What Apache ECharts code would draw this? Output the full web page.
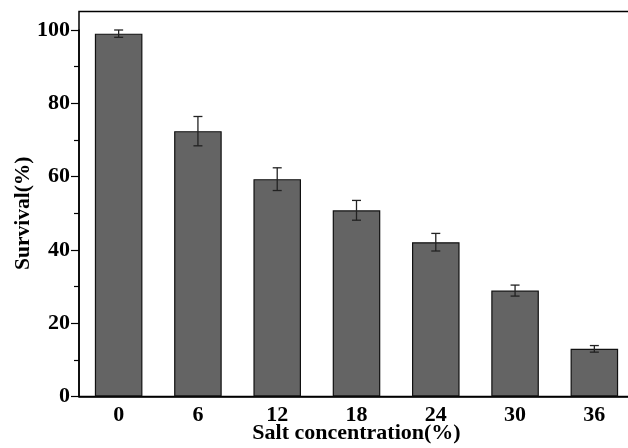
<!DOCTYPE html>
<html><head><meta charset="utf-8">
<script src="https://cdn.jsdelivr.net/npm/echarts@6/dist/echarts.min.js"></script>
<style>html,body{margin:0;padding:0;background:#fff}#c{width:628px;height:448px}</style>
</head><body><div id="c"></div>
<script>
var categories = ['0', '6', '12', '18', '24', '30', '36'];
var survival = [99.0, 72.4, 59.3, 50.8, 42.1, 28.9, 13.0];
var errors = [1.0, 4.0, 3.1, 2.7, 2.4, 1.5, 0.9];

var chart = echarts.init(document.getElementById('c'));
var font = 'Liberation Serif, Times New Roman, serif';
var errData = survival.map(function (v, i) { return [i, v - errors[i], v + errors[i]]; });
var lbl = { color: '#000', fontFamily: font, fontWeight: 'bold', fontSize: 22 };

chart.setOption({
  animation: false,
  grid: [
    { left: 79, top: 30, width: 555, height: 366.5, containLabel: false, outerBoundsMode: 'none' },
    { left: 79, top: 11.5, width: 555, height: 385, containLabel: false, outerBoundsMode: 'none',
      show: true, borderColor: '#000', borderWidth: 1.5, backgroundColor: 'transparent', z: 0 }
  ],
  xAxis: [{
    type: 'category', data: categories, gridIndex: 0,
    axisTick: { show: false },
    axisLine: { lineStyle: { color: '#000', width: 1.5 } },
    axisLabel: Object.assign({ margin: 8 }, lbl),
    name: 'Salt concentration(%)', nameLocation: 'middle', nameGap: 26, nameMoveOverlap: false,
    nameTextStyle: lbl
  }, {
    type: 'category', data: categories, gridIndex: 1, show: false
  }],
  yAxis: [{
    type: 'value', min: 0, max: 100, interval: 20, gridIndex: 0,
    splitLine: { show: false },
    axisLine: { show: true, lineStyle: { color: '#000', width: 1.5 } },
    axisTick: { show: true, inside: false, length: 8, lineStyle: { color: '#000', width: 1.2 } },
    minorTick: { show: true, splitNumber: 2, length: 5, lineStyle: { color: '#000', width: 1.2 } },
    axisLabel: Object.assign({ margin: 9 }, lbl),
    name: 'Survival(%)', nameLocation: 'middle', nameGap: 45, nameMoveOverlap: false,
    nameTextStyle: Object.assign({}, lbl, { fontSize: 21.5 })
  }, {
    type: 'value', min: 0, max: 105, gridIndex: 1, show: false
  }],
  series: [
    {
      type: 'bar', data: survival, barWidth: '60%', xAxisIndex: 0, yAxisIndex: 0,
      itemStyle: { color: '#646464', borderColor: '#111', borderWidth: 1.2 }
    },
    {
      type: 'custom', data: errData, z: 10, xAxisIndex: 0, yAxisIndex: 0,
      renderItem: function (params, api) {
        var x = api.value(0);
        var lo = api.coord([x, api.value(1)]);
        var hi = api.coord([x, api.value(2)]);
        var w = 4.5;
        var st = { stroke: '#222', lineWidth: 1.3 };
        return { type: 'group', children: [
          { type: 'line', shape: { x1: lo[0], y1: lo[1], x2: hi[0], y2: hi[1] }, style: st },
          { type: 'line', shape: { x1: lo[0] - w, y1: lo[1], x2: lo[0] + w, y2: lo[1] }, style: st },
          { type: 'line', shape: { x1: hi[0] - w, y1: hi[1], x2: hi[0] + w, y2: hi[1] }, style: st }
        ]};
      }
    }
  ]
});
</script></body></html>
